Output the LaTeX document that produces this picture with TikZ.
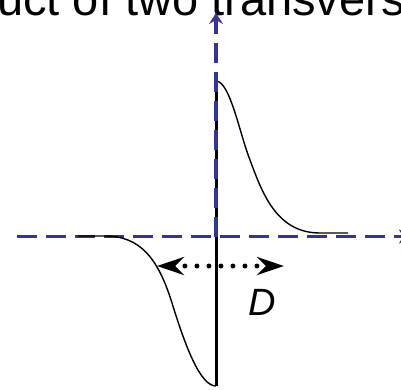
\documentclass[tikz,border=0pt]{standalone}
\usepackage{fontspec}
\setmainfont{Liberation Sans}
\usetikzlibrary{arrows.meta}
\definecolor{axisblue}{RGB}{51,51,153}
\tikzset{
  axisline/.style={draw=axisblue, line width=3.3pt, dash pattern=on 20pt off 9pt},
  curveline/.style={draw=black, line width=1.4pt},
  dotarrow/.style={draw=black, line width=5pt, line cap=round, dash pattern=on 0pt off 12pt,
    {Stealth[length=27pt,width=18pt,inset=9pt]}-{Stealth[length=27pt,width=18pt,inset=9pt]}}
}
\begin{document}
\begin{tikzpicture}[x=1pt,y=-1pt]
\useasboundingbox (0,0) rectangle (401,389);
\clip (0,0) rectangle (401,389);
% coordinates
\coordinate (hstart) at (17,236.5);
\coordinate (hend) at (412,236.5);
\coordinate (origin) at (216,236.5);
\coordinate (vtop) at (216,13);
\coordinate (peak) at (216,81);
\coordinate (trough) at (216,386);
\coordinate (rtail) at (348,233);
\coordinate (ltail) at (78,236);
\coordinate (dl) at (157,266);
\coordinate (dr) at (284,266);
% title
\node[anchor=base west, inner sep=0pt, font=\fontsize{47}{56}\selectfont] (title) at (-3,15) {uct of two transvers};
% horizontal axis
\draw[axisline, -{Stealth[length=13pt,width=14pt,inset=4pt]}] (hstart) -- (hend);
% curves
\draw[curveline] (peak) .. controls (230,81) and (240,135) .. (250,160)
  .. controls (262,192) and (276,233) .. (320,233) -- (rtail);
\draw[curveline] (trough) .. controls (200,386) and (185,345) .. (172,303)
  .. controls (158,258) and (140,236) .. (105,236) -- (ltail);
% black vertical line
\draw[black, line width=3pt] (peak) -- (trough);
% vertical axis
\draw[axisline, -{Stealth[length=11pt,width=14pt,inset=4pt]}] (origin) -- (vtop);
% D arrow
\draw[dotarrow] (dl) -- (dr);
\node[anchor=base west, inner sep=0pt, font=\fontsize{38}{44}\selectfont\itshape] (dlabel) at (248,315) {D};
\end{tikzpicture}
\end{document}
